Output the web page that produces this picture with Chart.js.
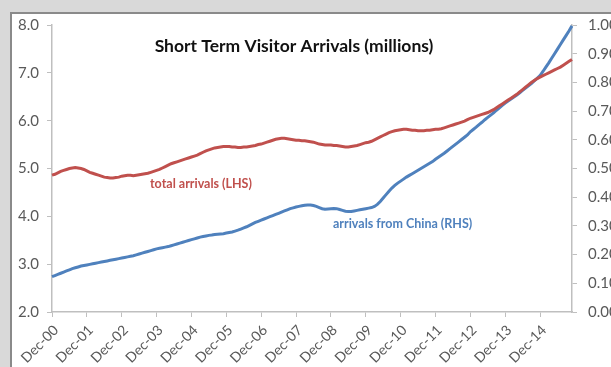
<!DOCTYPE html>
<html>
<head>
<meta charset="utf-8">
<script src="https://cdn.jsdelivr.net/npm/chart.js@4.4.1/dist/chart.umd.min.js"></script>
<style>
  html, body { margin: 0; padding: 0; width: 611px; height: 367px; overflow: hidden; background: #d9d9d9; }
  #box { position: absolute; left: 10px; top: 12px; width: 640px; height: 400px; background: #ffffff; border-left: 2px solid #8a8a8a; border-top: 2px solid #8a8a8a; }
  #c { position: absolute; left: 0; top: 0; }
</style>
</head>
<body>
<div id="box"></div>
<canvas id="c" width="611" height="367"></canvas>
<script>
// ---- DATA ----
const TITLE = 'Short Term Visitor Arrivals (millions)';
const SERIES_NAMES = ['total arrivals (LHS)', 'arrivals from China (RHS)'];
const MONTHS = ['Jan','Feb','Mar','Apr','May','Jun','Jul','Aug','Sep','Oct','Nov','Dec'];
// monthly categories Dec-00 .. Nov-15
const categories = [];
categories.push('Dec-00');
for (let y = 1; y <= 15; y++) {
  for (let m = 0; m < 12; m++) {
    if (y === 15 && m === 11) break;
    categories.push(MONTHS[m] + '-' + String(y).padStart(2, '0'));
  }
}
const xTickLabels = ['Dec-00','Dec-01','Dec-02','Dec-03','Dec-04','Dec-05','Dec-06','Dec-07','Dec-08','Dec-09','Dec-10','Dec-11','Dec-12','Dec-13','Dec-14'];
const leftTicks = [2.0, 3.0, 4.0, 5.0, 6.0, 7.0, 8.0];
const rightTicks = [0.0, 0.1, 0.2, 0.3, 0.4, 0.5, 0.6, 0.7, 0.8, 0.9, 1.0];

// total arrivals, millions (LHS)
const totalArrivals = [
  4.86, 4.88, 4.91, 4.94, 4.96, 4.98, 5.00, 5.01, 5.02, 5.01, 5.00, 4.98,
  4.95, 4.92, 4.90, 4.88, 4.86, 4.84, 4.82, 4.81, 4.80, 4.80, 4.81, 4.82,
  4.84, 4.85, 4.86, 4.86, 4.85, 4.86, 4.87, 4.88, 4.89, 4.90, 4.92, 4.94,
  4.96, 4.98, 5.01, 5.04, 5.07, 5.10, 5.12, 5.14, 5.16, 5.18, 5.20, 5.22,
  5.24, 5.26, 5.28, 5.31, 5.34, 5.37, 5.39, 5.41, 5.43, 5.44, 5.45, 5.46,
  5.46, 5.46, 5.45, 5.45, 5.44, 5.44, 5.45, 5.45, 5.46, 5.47, 5.48, 5.50,
  5.51, 5.53, 5.55, 5.57, 5.59, 5.61, 5.62, 5.63, 5.63, 5.62, 5.61, 5.60,
  5.59, 5.59, 5.58, 5.58, 5.57, 5.56, 5.55, 5.53, 5.51, 5.50, 5.49, 5.49,
  5.49, 5.48, 5.48, 5.47, 5.46, 5.45, 5.45, 5.46, 5.47, 5.48, 5.50, 5.52,
  5.54, 5.55, 5.57, 5.60, 5.63, 5.66, 5.69, 5.72, 5.75, 5.77, 5.79, 5.80,
  5.81, 5.82, 5.82, 5.81, 5.80, 5.80, 5.79, 5.79, 5.79, 5.80, 5.80, 5.81,
  5.82, 5.82, 5.83, 5.85, 5.87, 5.89, 5.91, 5.93, 5.95, 5.97, 5.99, 6.02,
  6.05, 6.07, 6.09, 6.11, 6.13, 6.15, 6.17, 6.20, 6.23, 6.27, 6.31, 6.35,
  6.39, 6.43, 6.47, 6.51, 6.55, 6.60, 6.65, 6.70, 6.75, 6.80, 6.84, 6.88,
  6.91, 6.94, 6.97, 7.00, 7.03, 7.06, 7.09, 7.12, 7.16, 7.20, 7.24, 7.28
];
// arrivals from China, millions (RHS)
const chinaArrivals = [
  0.123, 0.127, 0.131, 0.135, 0.139, 0.143, 0.147, 0.151, 0.154, 0.157, 0.160, 0.162,
  0.164, 0.166, 0.168, 0.170, 0.172, 0.174, 0.176, 0.178, 0.180, 0.182, 0.184, 0.186,
  0.188, 0.190, 0.192, 0.194, 0.196, 0.199, 0.202, 0.205, 0.208, 0.211, 0.214, 0.217,
  0.220, 0.222, 0.224, 0.226, 0.228, 0.231, 0.234, 0.237, 0.240, 0.243, 0.246, 0.249,
  0.252, 0.255, 0.258, 0.261, 0.263, 0.265, 0.267, 0.268, 0.270, 0.271, 0.272, 0.273,
  0.275, 0.277, 0.279, 0.282, 0.285, 0.289, 0.293, 0.297, 0.302, 0.307, 0.312, 0.316,
  0.320, 0.324, 0.328, 0.332, 0.336, 0.340, 0.344, 0.348, 0.352, 0.356, 0.360, 0.363,
  0.366, 0.368, 0.370, 0.372, 0.373, 0.373, 0.371, 0.368, 0.364, 0.360, 0.358, 0.359,
  0.360, 0.361, 0.360, 0.357, 0.354, 0.351, 0.350, 0.350, 0.352, 0.354, 0.356, 0.358,
  0.360, 0.362, 0.364, 0.368, 0.375, 0.385, 0.397, 0.409, 0.421, 0.432, 0.441, 0.449,
  0.456, 0.463, 0.470, 0.476, 0.482, 0.488, 0.494, 0.500, 0.506, 0.512, 0.518, 0.524,
  0.532, 0.539, 0.546, 0.553, 0.561, 0.569, 0.577, 0.585, 0.593, 0.601, 0.609, 0.617,
  0.628, 0.636, 0.644, 0.653, 0.661, 0.670, 0.678, 0.686, 0.694, 0.703, 0.711, 0.720,
  0.728, 0.735, 0.742, 0.749, 0.756, 0.764, 0.772, 0.780, 0.788, 0.796, 0.805, 0.814,
  0.824, 0.838, 0.853, 0.868, 0.884, 0.900, 0.916, 0.932, 0.948, 0.964, 0.980, 0.997
];

// ---- STYLE ----
const RED = '#c0504d';
const BLUE = '#4f81bd';
const AXIS = '#bfbfbf';
const TICKTXT = '#595959';
const FONT = 'Lato';

const textPlugin = {
  id: 'texts',
  afterDatasetsDraw(chart) {
    const ctx = chart.ctx;
    ctx.save();
    ctx.textBaseline = 'middle';
    ctx.textAlign = 'center';
    ctx.fillStyle = '#111111';
    ctx.font = 'bold 17.5px ' + FONT;
    ctx.fillText(TITLE, 294, 46);
    ctx.textAlign = 'left';
    ctx.font = 'bold 12.5px ' + FONT;
    ctx.fillStyle = RED;
    ctx.fillText(SERIES_NAMES[0], 150, 184);
    ctx.fillStyle = BLUE;
    ctx.fillText(SERIES_NAMES[1], 333, 224);
    ctx.restore();
  }
};

new Chart(document.getElementById('c'), {
  type: 'line',
  data: {
    labels: categories,
    datasets: [
      { label: SERIES_NAMES[0], data: totalArrivals, yAxisID: 'yL', borderColor: RED, borderWidth: 3, pointRadius: 0, tension: 0, fill: false },
      { label: SERIES_NAMES[1], data: chinaArrivals, yAxisID: 'yR', borderColor: BLUE, borderWidth: 3, pointRadius: 0, tension: 0, fill: false }
    ]
  },
  options: {
    responsive: false,
    animation: false,
    devicePixelRatio: 1,
    layout: { padding: { left: 0, right: 0, top: 25, bottom: 0 } },
    plugins: { legend: { display: false }, tooltip: { enabled: false }, title: { display: false } },
    scales: {
      x: {
        type: 'category',
        offset: false,
        grid: { display: true, drawOnChartArea: false, drawTicks: true, tickLength: 5, color: AXIS, lineWidth: 1 },
        border: { display: true, color: AXIS, width: 1.5 },
        ticks: {
          autoSkip: false,
          maxRotation: 45, minRotation: 45,
          padding: 5,
          labelOffset: 4,
          color: TICKTXT,
          font: { family: FONT, size: 14 },
          callback: function (v, i) {
            const l = categories[i];
            return xTickLabels.includes(l) ? l : null;
          }
        },
        afterFit: function (s) { s.height = 55; }
      },
      yL: {
        position: 'left',
        min: leftTicks[0], max: leftTicks[leftTicks.length - 1],
        afterBuildTicks: function (s) { s.ticks = leftTicks.map(v => ({ value: v })); },
        grid: { display: true, drawOnChartArea: false, drawTicks: true, tickLength: 5, color: AXIS },
        border: { display: true, color: AXIS, width: 1.5 },
        ticks: { padding: 8, color: TICKTXT, font: { family: FONT, size: 15 }, callback: v => Number(v).toFixed(1) },
        afterFit: function (s) { s.width = 52; }
      },
      yR: {
        position: 'right',
        min: rightTicks[0], max: rightTicks[rightTicks.length - 1],
        afterBuildTicks: function (s) { s.ticks = rightTicks.map(v => ({ value: v })); },
        grid: { display: true, drawOnChartArea: false, drawTicks: true, tickLength: 5, color: AXIS },
        border: { display: true, color: AXIS, width: 1.5 },
        ticks: { padding: 11, color: TICKTXT, font: { family: FONT, size: 15 }, callback: v => Number(v).toFixed(2) },
        afterFit: function (s) { s.width = 39; }
      }
    }
  },
  plugins: [textPlugin]
});
</script>
</body>
</html>
